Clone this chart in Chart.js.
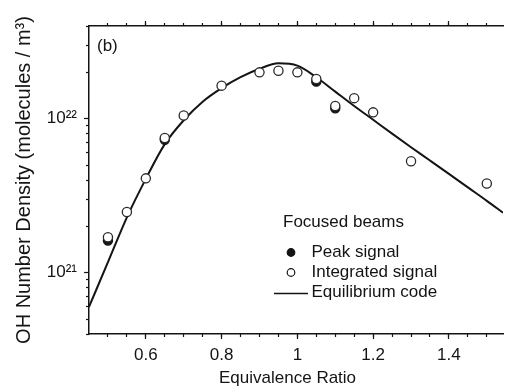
<!DOCTYPE html>
<html>
<head>
<meta charset="utf-8">
<script src="https://cdn.jsdelivr.net/npm/chart.js@4/dist/chart.umd.min.js"></script>
<style>
  html, body { margin: 0; padding: 0; background: #ffffff; }
  #wrap { width: 509px; height: 387px; }
</style>
</head>
<body>
<div id="wrap"><canvas id="c" width="509" height="387"></canvas></div>
<script>
// ---------------- data ----------------
const phiIntegrated = [0.5, 0.55, 0.6, 0.65, 0.7, 0.8, 0.9, 0.95, 1.0, 1.05, 1.1, 1.15, 1.2, 1.3, 1.5];
const ohIntegrated  = [1.70e21, 2.48e21, 4.10e21, 7.50e21, 1.05e22, 1.64e22, 2.00e22, 2.05e22, 2.00e22, 1.81e22, 1.21e22, 1.36e22, 1.10e22, 5.30e21, 3.80e21];

const phiPeak = [0.5, 0.65, 1.05, 1.1];
const ohPeak  = [1.62e21, 7.30e21, 1.74e22, 1.17e22];

const phiModel = [0.45, 0.5, 0.55, 0.6, 0.65, 0.7, 0.75, 0.8, 0.85, 0.9, 0.95, 1.0, 1.05, 1.1, 1.15, 1.2, 1.25, 1.3, 1.35, 1.4, 1.45, 1.5, 1.543];
const ohModel  = [6.0e20, 1.17e21, 2.29e21, 4.07e21, 6.84e21, 9.77e21, 1.29e22, 1.58e22, 1.86e22, 2.11e22, 2.29e22, 2.21e22, 1.86e22, 1.50e22, 1.21e22, 9.84e21, 8.0e21, 6.53e21, 5.35e21, 4.38e21, 3.58e21, 2.93e21, 2.45e21];

const seriesLabels = ['Peak signal', 'Integrated signal', 'Equilibrium code'];
const legendTitle = 'Focused beams';
const panelLabel = '(b)';

const xMajorTicks = [0.6, 0.8, 1.0, 1.2, 1.4];
const xTickLabels = ['0.6', '0.8', '1', '1.2', '1.4'];
const xMinorTicks = [0.5, 0.55, 0.6, 0.65, 0.7, 0.75, 0.8, 0.85, 0.9, 0.95, 1.0, 1.05, 1.1, 1.15, 1.2, 1.25, 1.3, 1.35, 1.4, 1.45, 1.5];
const yMajorTicks = [1e21, 1e22];
const yTickLabels = ['10\u00B2\u00B9', '10\u00B2\u00B2'];
const yMinorTicks = [4e20, 5e20, 6e20, 7e20, 8e20, 9e20, 2e21, 3e21, 4e21, 5e21, 6e21, 7e21, 8e21, 9e21, 2e22, 3e22, 4e22];

const xTitle = 'Equivalence Ratio';
const yTitle = 'OH Number Density (molecules / m\u00B3)';
const xMin = 0.45, xMax = 1.543, yMin = 4e20, yMax = 4e22;

// ---------------- styling ----------------
const INK = '#141414';
const FONT = '"Liberation Sans", Arial, Helvetica, sans-serif';

function pts(xs, ys) { return xs.map((x, i) => ({ x: x, y: ys[i] })); }
function setTicks(values) { return (scale) => { scale.ticks = values.map(v => ({ value: v })); }; }
function labelFrom(values, labels) {
  return (v) => { const i = values.findIndex(t => Math.abs(t - v) <= Math.abs(t) * 1e-9); return i >= 0 ? labels[i] : ''; };
}

const baseGrid = (len) => ({ drawOnChartArea: false, drawTicks: true, tickLength: len, tickWidth: 1.2, tickColor: INK });

const insetLegend = {
  id: 'insetLegend',
  afterDraw(chart, args, o) {
    const ctx = chart.ctx;
    ctx.save();
    ctx.font = '17px ' + FONT;
    ctx.fillStyle = INK;
    ctx.textBaseline = 'middle';
    ctx.textAlign = 'left';
    ctx.fillText(panelLabel, o.panelX, o.panelY);
    ctx.fillText(legendTitle, o.titleX, o.titleY);
    chart.data.datasets.forEach((ds, i) => {
      const y = o.firstY + i * o.spacing;
      const cx = o.markerX;
      ctx.lineWidth = 1.2;
      ctx.strokeStyle = INK;
      if (ds.showLine) {
        ctx.lineWidth = 1.6;
        ctx.beginPath();
        ctx.moveTo(o.lineX0, y + 1);
        ctx.lineTo(o.lineX1, y + 1);
        ctx.stroke();
      } else {
        ctx.beginPath();
        ctx.arc(cx, y, o.markerR, 0, Math.PI * 2);
        ctx.fillStyle = ds.pointBackgroundColor;
        ctx.fill();
        ctx.stroke();
      }
      ctx.fillStyle = INK;
      ctx.fillText(ds.label, o.textX, y);
    });
    ctx.restore();
  }
};

new Chart(document.getElementById('c'), {
  type: 'scatter',
  data: {
    datasets: [
      {
        label: seriesLabels[0],
        data: pts(phiPeak, ohPeak),
        order: 1,
        pointRadius: 4.6,
        pointBackgroundColor: INK,
        pointBorderColor: INK,
        pointBorderWidth: 1.2,
        showLine: false
      },
      {
        label: seriesLabels[1],
        data: pts(phiIntegrated, ohIntegrated),
        order: 0,
        pointRadius: 4.6,
        pointBackgroundColor: '#ffffff',
        pointBorderColor: '#2a2a2a',
        pointBorderWidth: 1.3,
        showLine: false
      },
      {
        label: seriesLabels[2],
        data: pts(phiModel, ohModel),
        order: 2,
        showLine: true,
        borderColor: INK,
        borderWidth: 2,
        pointRadius: 0,
        cubicInterpolationMode: 'monotone',
        fill: false
      }
    ]
  },
  options: {
    responsive: false,
    devicePixelRatio: 1,
    animation: false,
    layout: { padding: 0 },
    plugins: {
      legend: { display: false },
      tooltip: { enabled: false },
      insetLegend: {
        panelX: 97, panelY: 46,
        titleX: 283, titleY: 222,
        firstY: 252.5, spacing: 20,
        markerX: 291, markerR: 3.8,
        lineX0: 274, lineX1: 308,
        textX: 311.5
      }
    },
    scales: {
      x: {
        type: 'linear', position: 'bottom', weight: 1,
        min: xMin, max: xMax,
        afterBuildTicks: setTicks(xMajorTicks),
        afterFit: (s) => { s.height = 53; },
        grid: baseGrid(5),
        border: { display: true, color: INK, width: 1.5 },
        ticks: { autoSkip: false, maxRotation: 0, padding: 6, color: INK, font: { family: FONT, size: 17 }, callback: labelFrom(xMajorTicks, xTickLabels) },
        title: { display: true, text: xTitle + '\u2003', color: INK, font: { family: FONT, size: 17, lineHeight: 1 }, padding: { top: 0, bottom: 0 } }
      },
      xMinor: {
        type: 'linear', position: 'bottom', weight: 0,
        min: xMin, max: xMax,
        afterBuildTicks: setTicks(xMinorTicks),
        afterFit: (s) => { s.height = 0; },
        grid: baseGrid(3),
        border: { display: false },
        ticks: { display: false }
      },
      xTop: {
        type: 'linear', position: 'top', weight: 1,
        min: xMin, max: xMax,
        afterBuildTicks: setTicks(xMajorTicks),
        afterFit: (s) => { s.height = 26; },
        grid: baseGrid(5),
        border: { display: true, color: INK, width: 1.5 },
        ticks: { display: false }
      },
      xTopMinor: {
        type: 'linear', position: 'top', weight: 0,
        min: xMin, max: xMax,
        afterBuildTicks: setTicks(xMinorTicks),
        afterFit: (s) => { s.height = 0; },
        grid: baseGrid(3),
        border: { display: false },
        ticks: { display: false }
      },
      y: {
        type: 'logarithmic', position: 'left', weight: 1,
        min: yMin, max: yMax,
        afterBuildTicks: setTicks(yMajorTicks),
        afterFit: (s) => { s.width = 89; },
        grid: baseGrid(5),
        border: { display: true, color: INK, width: 1.5 },
        ticks: { autoSkip: false, padding: 7, color: INK, font: { family: FONT, size: 17 }, callback: labelFrom(yMajorTicks, yTickLabels) },
        title: { display: true, text: yTitle, color: INK, font: { family: FONT, size: 20 }, padding: { top: 12, bottom: 0 } }
      },
      yMinor: {
        type: 'logarithmic', position: 'left', weight: 0,
        min: yMin, max: yMax,
        afterBuildTicks: setTicks(yMinorTicks),
        afterFit: (s) => { s.width = 0; },
        grid: baseGrid(3),
        border: { display: false },
        ticks: { display: false }
      }
    }
  },
  plugins: [insetLegend]
});
</script>
</body>
</html>
